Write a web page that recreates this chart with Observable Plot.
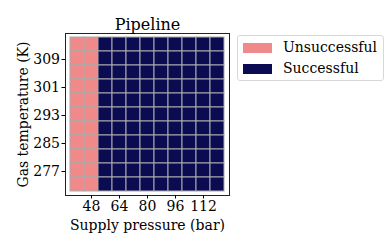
<!DOCTYPE html>
<html>
<head>
<meta charset="utf-8">
<script src="https://cdn.jsdelivr.net/npm/d3@7"></script>
<script src="https://cdn.jsdelivr.net/npm/@observablehq/plot@0.6"></script>
<style>
  html, body { margin: 0; padding: 0; background: #fff; }
  #wrap { position: relative; width: 392px; height: 245px; font-family: "DejaVu Serif", serif; }
  #legend { position: absolute; left: 237px; top: 35px; width: 145px; height: 44px;
            border: 1px solid #d8d8d8; border-radius: 3px; background: #fff; }
  .item { position: absolute; left: 5px; height: 14px; font-size: 14px; line-height: 14px; color: #000; }
  .sw { position: absolute; left: 0; top: 2px; width: 29px; height: 10px; }
  .lab { position: absolute; left: 40px; top: -1px; white-space: nowrap; }
</style>
</head>
<body>
<div id="wrap"></div>
<script>
const title = "Pipeline";
const xLabel = "Supply pressure (bar)";
const yLabel = "Gas temperature (K)";
const pressures = [40, 48, 56, 64, 72, 80, 88, 96, 104, 112, 120];
const temperatures = [313, 309, 305, 301, 297, 293, 289, 285, 281, 277, 273];
const xTicks = [48, 64, 80, 96, 112];
const yTicks = [277, 285, 293, 301, 309];
const categories = ["Unsuccessful", "Successful"];
const colors = ["#f08a8a", "#0b0b52"];
// rows top (313 K) to bottom (273 K); columns 40..120 bar; U = Unsuccessful, S = Successful
const outcome = [
  "UUSSSSSSSSS",
  "UUSSSSSSSSS",
  "UUSSSSSSSSS",
  "UUSSSSSSSSS",
  "UUSSSSSSSSS",
  "UUSSSSSSSSS",
  "UUSSSSSSSSS",
  "UUSSSSSSSSS",
  "UUSSSSSSSSS",
  "UUSSSSSSSSS",
  "UUSSSSSSSSS"
];

const cells = [];
temperatures.forEach((t, i) => {
  pressures.forEach((p, j) => {
    cells.push({p, t, status: outcome[i][j] === "U" ? categories[0] : categories[1]});
  });
});

const chart = Plot.plot({
  width: 392,
  height: 245,
  marginLeft: 65,
  marginRight: 163,
  marginTop: 33,
  marginBottom: 50,
  style: {fontFamily: "DejaVu Serif, serif", fontSize: "14px", color: "#000", background: "#fff"},
  x: {type: "band", domain: pressures, padding: 0},
  y: {type: "band", domain: temperatures, padding: 0},
  color: {domain: categories, range: colors},
  marks: [
    Plot.cell(cells, {x: "p", y: "t", fill: "status", stroke: "#aaaaaa", strokeWidth: 1}),
    Plot.frame({stroke: "#222", strokeWidth: 1}),
    Plot.axisX({ticks: xTicks, tickSize: 3.5, tickPadding: 2, fontSize: 14,
                label: xLabel, labelAnchor: "center", labelOffset: 34}),
    Plot.axisY({ticks: yTicks, tickSize: 3.5, tickPadding: 2, fontSize: 14, dy: 1,
                label: yLabel, labelAnchor: "center", labelOffset: 47}),
    Plot.text([title], {frameAnchor: "top", lineAnchor: "bottom", dy: -4, fontSize: 16, fill: "#000"})
  ]
});

const wrap = document.getElementById("wrap");
wrap.appendChild(chart);

const legend = document.createElement("div");
legend.id = "legend";
categories.forEach((c, i) => {
  const item = document.createElement("div");
  item.className = "item";
  item.style.top = (5 + i * 21) + "px";
  const sw = document.createElement("div");
  sw.className = "sw";
  sw.style.background = colors[i];
  const lab = document.createElement("span");
  lab.className = "lab";
  lab.textContent = c;
  item.appendChild(sw);
  item.appendChild(lab);
  legend.appendChild(item);
});
wrap.appendChild(legend);
</script>
</body>
</html>
